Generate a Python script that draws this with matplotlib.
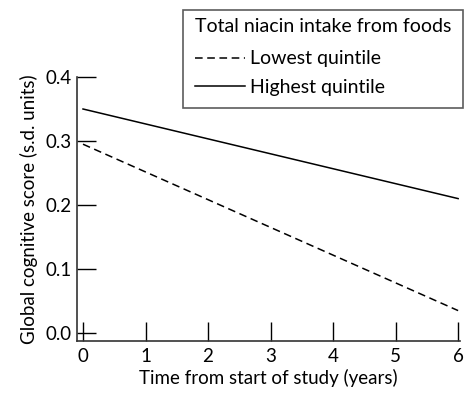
import matplotlib
matplotlib.use("Agg")
import matplotlib.pyplot as plt

plt.rcParams['font.family'] = ['Lato', 'DejaVu Sans']

years = [0, 6]
lowest = [0.295, 0.035]
highest = [0.35, 0.21]
xticks = [0, 1, 2, 3, 4, 5, 6]
yticks = [0.0, 0.1, 0.2, 0.3, 0.4]

fig = plt.figure(figsize=(4.66, 3.95), dpi=100)
ax = fig.add_axes([77 / 466, 1 - 341 / 395, (460 - 77) / 466, (341 - 77) / 395])

ax.plot(years, lowest, color='black', lw=1.1, ls=(0, (5, 3)), label='Lowest quintile')
ax.plot(years, highest, color='black', lw=1.1, label='Highest quintile')

ax.set_xlim(-0.096, 6.03)
ax.set_ylim(-0.0125, 0.4)
ax.set_xticks(xticks)
ax.set_xticklabels([str(t) for t in xticks])
ax.set_yticks(yticks)
ax.set_yticklabels([f'{t:.1f}' for t in yticks])

for s in ['top', 'right']:
    ax.spines[s].set_visible(False)
for s in ['left', 'bottom']:
    ax.spines[s].set_linewidth(1.2)
    ax.spines[s].set_color('#333333')

ax.tick_params(axis='both', direction='in', length=14, width=1.0, labelsize=13.5, pad=4)
ax.tick_params(axis='x', pad=5)

ax.set_xlabel('Time from start of study (years)', fontsize=13.5, labelpad=3)
ax.set_ylabel('Global cognitive score (s.d. units)', fontsize=13.5, labelpad=5)

leg = fig.legend(loc='upper left', bbox_to_anchor=(183 / 466, 1 - 10 / 395),
                 borderaxespad=0, title='Total niacin intake from foods',
                 fontsize=14, title_fontsize=14, frameon=True, fancybox=False,
                 edgecolor='#333333', handlelength=2.6, handletextpad=0.25,
                 borderpad=0.6, labelspacing=0.6, alignment='left')
leg.get_frame().set_linewidth(1.2)
leg.get_title().set_position((0, 4))

fig.savefig('out.png', dpi=100)
